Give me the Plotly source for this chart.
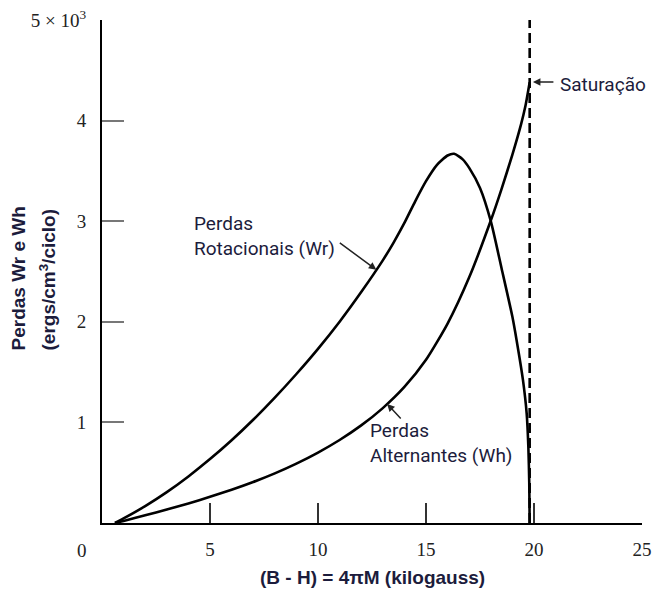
import plotly.graph_objects as go

# Data (x in kilogauss, y in ergs/cm^3/ciclo)
wr_x = [0.6, 1, 2, 3, 4, 5, 6, 7, 8, 9, 10, 11, 12, 13, 13.5, 14, 14.5, 15, 15.5, 16, 16.3, 16.7, 17, 17.5, 18, 18.5, 19, 19.2, 19.49, 19.66, 19.74, 19.78, 19.8]
wr_y = [0, 45, 168, 307, 463, 635, 822, 1026, 1246, 1481, 1731, 2001, 2296, 2611, 2788, 2983, 3198, 3398, 3558, 3653, 3670, 3615, 3530, 3330, 3000, 2530, 2050, 1810, 1420, 1090, 750, 400, 0]

wh_x = [0.6, 1, 2, 3, 4, 5, 6, 7, 8, 9, 10, 11, 12, 13, 14, 15, 16, 17, 18, 18.5, 19, 19.4, 19.6, 19.8]
wh_y = [0, 21, 76, 134, 195, 260, 330, 407, 493, 590, 700, 825, 970, 1142, 1352, 1622, 1982, 2442, 3007, 3322, 3662, 3962, 4142, 4382]

sat_x = [19.8, 19.8]
sat_y = [0, 5050]

x_ticks = [5, 10, 15, 20, 25]
y_ticks = [1000, 2000, 3000, 4000, 5000]
y_ticktext = ["1", "2", "3", "4", "5 × 10<sup>3</sup>"]

txt_color = "#1c1c3c"
sans = "Roboto, Liberation Sans, Arial"
serif = "Liberation Serif, Times New Roman, serif"

fig = go.Figure()
line_style = dict(color="black", width=2.6, shape="spline", smoothing=0.6)
fig.add_trace(go.Scatter(x=wr_x, y=wr_y, mode="lines", line=line_style, cliponaxis=False, showlegend=False))
fig.add_trace(go.Scatter(x=wh_x, y=wh_y, mode="lines", line=line_style, cliponaxis=False, showlegend=False))
fig.add_trace(go.Scatter(x=sat_x, y=sat_y, mode="lines", line=dict(color="black", width=2.6, dash="10px,5px"),
                         cliponaxis=False, showlegend=False))

fig.update_layout(
    template="none",
    width=654, height=595,
    margin=dict(l=102, r=12, t=20, b=72, autoexpand=False),
    plot_bgcolor="white", paper_bgcolor="white",
    xaxis=dict(range=[0, 25], tickvals=x_ticks, ticks="inside", ticklen=20, tickwidth=1.5,
               tickcolor="#333", showline=True, linecolor="black", linewidth=2,
               showgrid=False, zeroline=False, automargin=False, ticklabelstandoff=8,
               tickfont=dict(family=serif, size=19, color="#222")),
    yaxis=dict(range=[0, 5000], tickvals=y_ticks, ticktext=y_ticktext, ticks="inside", ticklen=22,
               tickwidth=1.5, tickcolor="#777", showline=True, linecolor="black", linewidth=2,
               showgrid=False, zeroline=False, automargin=False, ticklabelstandoff=10,
               tickfont=dict(family=serif, size=19, color="#222")),
)

ann = []
# origin label
ann.append(dict(x=0, y=0, xref="x", yref="y", text="0", showarrow=False, xshift=-20, yshift=-27,
                font=dict(family=serif, size=19, color="#222")))
# axis titles
ann.append(dict(x=0.5, y=0, xref="paper", yref="paper", text="<b>(B - H) = 4πM (kilogauss)</b>",
                showarrow=False, yshift=-54, xanchor="center", yanchor="middle",
                font=dict(family="Liberation Sans", size=19, color=txt_color)))
ann.append(dict(x=0, y=0.5, xref="paper", yref="paper", text="<b>Perdas Wr e Wh</b>", textangle=-90,
                showarrow=False, xshift=-84, yshift=-7, xanchor="center", yanchor="middle",
                font=dict(family="Liberation Sans", size=19, color=txt_color)))
ann.append(dict(x=0, y=0.5, xref="paper", yref="paper", text="<b>(ergs/cm<sup>3</sup>/ciclo)</b>", textangle=-90,
                showarrow=False, xshift=-55, yshift=-8, xanchor="center", yanchor="middle",
                font=dict(family="Liberation Sans", size=19, color=txt_color)))
# curve labels
ann.append(dict(x=4.17, y=2848, xref="x", yref="y", text="Perdas<br>Rotacionais (Wr)", align="left",
                showarrow=False, xanchor="left", yanchor="middle",
                font=dict(family=sans, size=19, color=txt_color)))
ann.append(dict(x=12.7, y=2517, xref="x", yref="y", text="", showarrow=True, arrowhead=2, arrowsize=1,
                arrowwidth=1.5, arrowcolor="#222", ax=-38, ay=-28))
ann.append(dict(x=12.3, y=795, xref="x", yref="y", text="Perdas<br>Alternantes (Wh)", align="left",
                showarrow=False, xanchor="left", yanchor="middle",
                font=dict(family=sans, size=19, color=txt_color)))
ann.append(dict(x=13.2, y=1184, xref="x", yref="y", text="", showarrow=True, arrowhead=2, arrowsize=1,
                arrowwidth=1.5, arrowcolor="#222", ax=15, ay=16))
ann.append(dict(x=21.11, y=4354, xref="x", yref="y", text="Saturação", align="left",
                showarrow=False, xanchor="left", yanchor="middle",
                font=dict(family=sans, size=19, color=txt_color)))
ann.append(dict(x=19.95, y=4384, xref="x", yref="y", text="", showarrow=True, arrowhead=2, arrowsize=1,
                arrowwidth=1.5, arrowcolor="#222", ax=22, ay=0))
fig.update_layout(annotations=ann)

fig.write_html("out.html")
